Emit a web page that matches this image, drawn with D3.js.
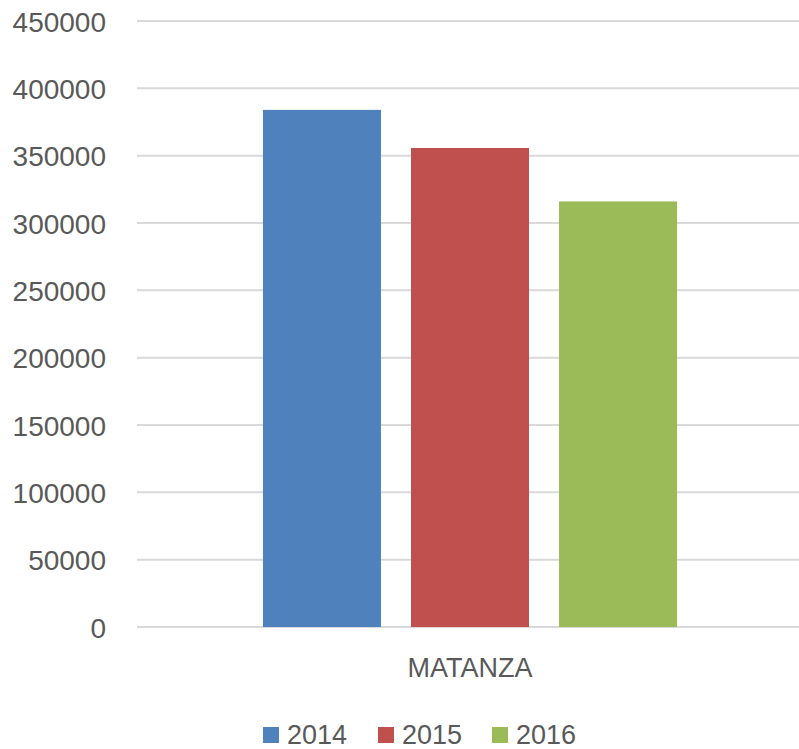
<!DOCTYPE html>
<html lang="es">
<head>
  <meta charset="UTF-8">
  <title>MATANZA 2014-2016</title>
  <script src="https://cdn.jsdelivr.net/npm/d3@7"></script>
  <style>
    html, body { margin: 0; padding: 0; background: #fff; }
    svg { display: block; font-family: "Liberation Sans", Arial, sans-serif; }
    .tick text { fill: #595959; font-size: 28px; }
    .grid line { stroke: #d9d9d9; stroke-width: 2; }
  </style>
</head>
<body>
  <div id="chart"></div>
  <script>
    // Data
    const categories = ['MATANZA'];
    const years = ['2014', '2015', '2016'];
    const values2014 = [384000];
    const values2015 = [355700];
    const values2016 = [316000];
    const yTicks = [0, 50000, 100000, 150000, 200000, 250000, 300000, 350000, 400000, 450000];
    const colors = ['#4f81bd', '#c0504d', '#9bbb59'];

    const series = [values2014, values2015, values2016];

    const width = 799, height = 749;
    const margin = { top: 21, right: -4, bottom: 122, left: 137 };

    const svg = d3.select('#chart')
      .append('svg')
      .attr('width', width)
      .attr('height', height);

    const x0 = d3.scaleBand()
      .domain(categories)
      .range([margin.left, width - margin.right]);

    const x1 = d3.scaleBand()
      .domain(years)
      .range([0, x0.bandwidth()])
      .paddingInner(0.203)
      .paddingOuter(0.851);

    const y = d3.scaleLinear()
      .domain([0, 450000])
      .range([height - margin.bottom, margin.top]);

    // Gridlines
    svg.append('g')
      .attr('class', 'grid')
      .selectAll('line')
      .data(yTicks)
      .join('line')
      .attr('x1', margin.left)
      .attr('x2', width)
      .attr('y1', d => y(d))
      .attr('y2', d => y(d));

    // Y axis labels
    const yAxis = svg.append('g')
      .attr('transform', `translate(${margin.left - 31},0)`)
      .call(d3.axisLeft(y).tickValues(yTicks).tickFormat(d3.format('d')).tickSize(0).tickPadding(0));
    yAxis.select('.domain').remove();
    yAxis.selectAll('text').attr('dy', '0.36em');

    // Bars
    const groups = svg.append('g')
      .selectAll('g')
      .data(categories)
      .join('g')
      .attr('transform', d => `translate(${x0(d)},0)`);

    groups.selectAll('rect')
      .data((d, i) => years.map((yr, j) => ({ year: yr, value: series[j][i], color: colors[j] })))
      .join('rect')
      .attr('x', d => x1(d.year))
      .attr('width', x1.bandwidth())
      .attr('y', d => y(d.value))
      .attr('height', d => y(0) - y(d.value))
      .attr('fill', d => d.color);

    // Category label
    svg.append('g')
      .selectAll('text')
      .data(categories)
      .join('text')
      .attr('x', d => x0(d) + x1(years[0]) + (x1(years[2]) + x1.bandwidth() - x1(years[0])) / 2)
      .attr('y', 677)
      .attr('text-anchor', 'middle')
      .attr('fill', '#595959')
      .attr('font-size', 27)
      .text(d => d);

    // Legend
    const legendX = [263, 378, 492];
    const legend = svg.append('g')
      .selectAll('g')
      .data(years)
      .join('g')
      .attr('transform', (d, i) => `translate(${legendX[i]},734)`);

    legend.append('rect')
      .attr('x', 0)
      .attr('y', -7)
      .attr('width', 16)
      .attr('height', 16)
      .attr('fill', (d, i) => colors[i]);

    legend.append('text')
      .attr('x', 24)
      .attr('dy', '0.36em')
      .attr('fill', '#595959')
      .attr('font-size', 27)
      .text(d => d);
  </script>
</body>
</html>
